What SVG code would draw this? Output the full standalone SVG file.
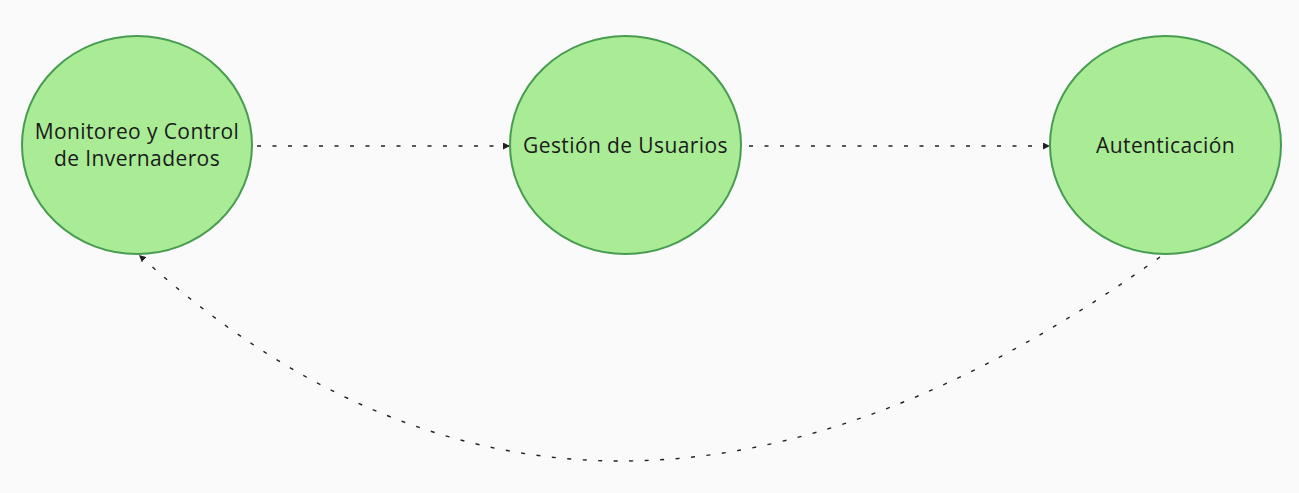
<svg xmlns="http://www.w3.org/2000/svg" width="1299" height="493" viewBox="0 0 1299 493">
<defs>
<style>
.node{fill:#a9ec95;stroke:#479c51;stroke-width:2}
.lbl{font-family:"Open Sans","Liberation Sans",sans-serif;font-size:21px;letter-spacing:0.4px;fill:#1a1a1a;text-anchor:middle}
.edge{fill:none;stroke:#222;stroke-width:1.4;stroke-dasharray:4 11.5}
</style>
<marker id="ah" viewBox="0 0 10 10" refX="10" refY="5" markerWidth="7" markerHeight="7" markerUnits="userSpaceOnUse" orient="auto">
<path d="M0,0 L10,5 L0,10 z" fill="#222"/>
</marker>
</defs>
<rect width="1299" height="493" fill="#fafafa"/>
<g id="connectors">
<path class="edge" d="M257,146 L510,146" marker-end="url(#ah)"/>
<path class="edge" d="M749,146 L1050,146" marker-end="url(#ah)"/>
<path class="edge" d="M1160,257 Q590,666 139,255" marker-end="url(#ah)"/>
</g>
<g id="node-monitoreo">
<ellipse class="node" cx="137" cy="145" rx="115" ry="109"/>
<text class="lbl" x="137" y="139">Monitoreo y Control</text>
<text class="lbl" x="137" y="166">de Invernaderos</text>
</g>
<g id="node-gestion">
<ellipse class="node" cx="625.5" cy="145" rx="115.5" ry="109"/>
<text class="lbl" x="625.5" y="153">Gestión de Usuarios</text>
</g>
<g id="node-autenticacion">
<ellipse class="node" cx="1165.5" cy="145" rx="115.5" ry="109"/>
<text class="lbl" x="1165.5" y="153">Autenticación</text>
</g>
</svg>
